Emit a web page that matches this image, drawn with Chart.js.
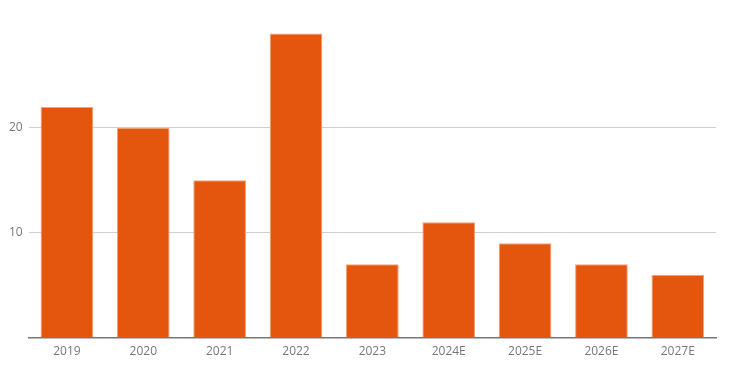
<!DOCTYPE html>
<html>
<head>
<meta charset="utf-8">
<script src="https://cdn.jsdelivr.net/npm/chart.js@4"></script>
<style>
    html, body { margin: 0; padding: 0; background: #fff; }
    #wrap { width: 730px; height: 369px; }
</style>
</head>
<body>
<div id="wrap"><canvas id="barChart"></canvas></div>
<script>
// Données du graphique
const years = ['2019', '2020', '2021', '2022', '2023', '2024E', '2025E', '2026E', '2027E'];
const values = [22, 20, 15, 29, 7, 11, 9, 7, 6];
const yTicks = [10, 20];

const ctx = document.getElementById('barChart');

new Chart(ctx.getContext('2d'), {
    type: 'bar',
    data: {
        labels: years,
        datasets: [{
            data: values,
            backgroundColor: '#e4550e',
            borderColor: '#f2a277',
            borderWidth: 1,
            borderSkipped: 'bottom',
            barPercentage: 0.69,
            categoryPercentage: 1
        }]
    },
    options: {
        responsive: true,
        maintainAspectRatio: false,
        animation: false,
        layout: {
            padding: { left: 3, right: 14, top: 23, bottom: 3 }
        },
        plugins: {
            legend: { display: false },
            tooltip: { enabled: false }
        },
        scales: {
            x: {
                grid: { display: false, drawTicks: false },
                border: { display: true, color: '#777', width: 1.5 },
                ticks: {
                    padding: 7,
                    color: '#777',
                    font: { family: 'Open Sans', size: 12 }
                }
            },
            y: {
                min: 0,
                max: 30,
                border: { display: false },
                grid: {
                    drawTicks: false,
                    color: c => yTicks.includes(c.tick.value) ? '#cfcfcf' : 'rgba(0,0,0,0)'
                },
                ticks: {
                    stepSize: 10,
                    padding: 6,
                    color: '#777',
                    font: { family: 'Open Sans', size: 12 },
                    callback: v => yTicks.includes(v) ? v : ''
                }
            }
        }
    }
});
</script>
</body>
</html>
